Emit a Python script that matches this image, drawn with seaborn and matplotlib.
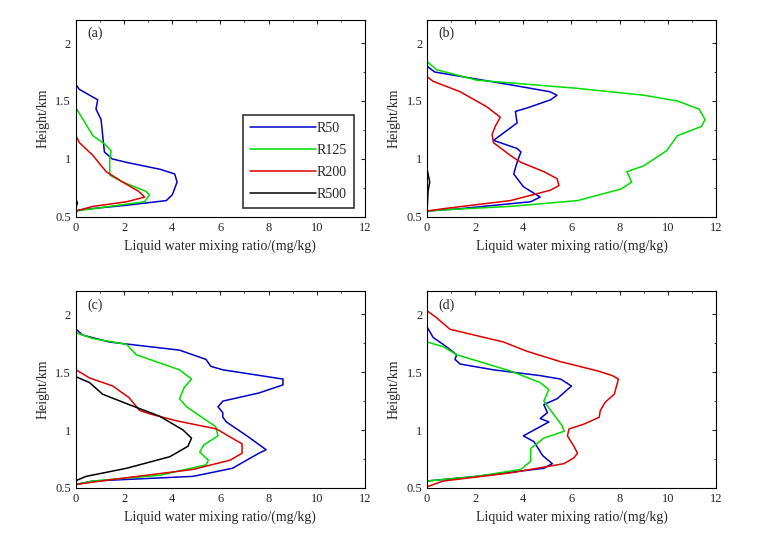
import matplotlib
matplotlib.use("Agg")
import matplotlib.pyplot as plt
import seaborn as sns
import pandas as pd
from matplotlib.ticker import AutoMinorLocator

# ── data: (mixing ratio mg/kg, height km) per case ───────────────────────────
a_r50_x = [0, 0.14, 0.9, 0.83, 1.04, 1.18, 1.5, 2.1, 3.5, 4.1, 4.2, 4.0, 3.75, 2.1, 0.14, 0]
a_r50_h = [1.64, 1.60, 1.51, 1.43, 1.34, 1.06, 1.0, 0.97, 0.91, 0.87, 0.80, 0.69, 0.64, 0.60, 0.56, 0.55]
a_r125_x = [0, 0.7, 1.18, 1.46, 1.4, 1.4, 1.94, 2.9, 3.05, 2.85, 1.4, 0]
a_r125_h = [1.44, 1.2, 1.13, 1.07, 1.0, 0.86, 0.80, 0.72, 0.69, 0.63, 0.59, 0.55]
a_r200_x = [0, 0.14, 0.7, 1.25, 1.94, 2.6, 2.85, 2.1, 0.7, 0]
a_r200_h = [1.2, 1.14, 1.03, 0.89, 0.80, 0.72, 0.67, 0.63, 0.59, 0.55]
a_r500_x = [0, 0.06, 0]
a_r500_h = [0.65, 0.62, 0.58]

b_r50_x = [0, 0.32, 3.46, 5.1, 5.4, 5.13, 4.16, 3.67, 3.74, 2.76, 3.74, 3.9, 3.74, 3.6, 4.0, 4.7, 4.3, 1.37, 0]
b_r50_h = [1.80, 1.75, 1.64, 1.58, 1.55, 1.51, 1.44, 1.41, 1.31, 1.16, 1.09, 1.06, 0.97, 0.87, 0.76, 0.67, 0.63, 0.57, 0.55]
b_r125_x = [0, 0.4, 2.06, 6.2, 9.0, 10.4, 11.3, 11.55, 11.4, 10.4, 9.95, 9.0, 8.3, 8.5, 8.06, 6.25, 3.46, 0.67, 0]
b_r125_h = [1.84, 1.77, 1.68, 1.61, 1.55, 1.50, 1.43, 1.34, 1.28, 1.2, 1.07, 0.94, 0.89, 0.80, 0.74, 0.64, 0.59, 0.56, 0.55]
b_r200_x = [0, 0.25, 1.37, 2.48, 3.04, 2.83, 2.7, 2.76, 3.46, 3.9, 4.85, 5.4, 5.48, 5.13, 3.46, 0.67, 0]
b_r200_h = [1.71, 1.67, 1.58, 1.45, 1.36, 1.28, 1.21, 1.14, 1.03, 0.97, 0.89, 0.83, 0.77, 0.73, 0.64, 0.57, 0.55]
b_r500_x = [0, 0.11, 0.04, 0]
b_r500_h = [0.91, 0.80, 0.72, 0.55]

c_r50_x = [0, 0.28, 1.39, 4.3, 5.4, 5.6, 6.1, 8.6, 8.6, 7.6, 6.1, 5.9, 6.1, 6.1, 6.25, 7.1, 7.9, 7.6, 6.5, 4.86, 0.7, 0]
c_r50_h = [1.87, 1.82, 1.76, 1.69, 1.61, 1.55, 1.52, 1.44, 1.39, 1.32, 1.25, 1.20, 1.15, 1.11, 1.07, 0.95, 0.83, 0.80, 0.67, 0.60, 0.56, 0.53]
c_r125_x = [0, 0.7, 2.1, 2.5, 4.3, 4.8, 4.5, 4.3, 4.6, 5.3, 5.8, 5.9, 5.3, 5.14, 5.5, 5.4, 3.5, 0.7, 0]
c_r125_h = [1.84, 1.79, 1.74, 1.65, 1.52, 1.44, 1.37, 1.27, 1.20, 1.10, 1.03, 0.95, 0.87, 0.81, 0.74, 0.70, 0.61, 0.56, 0.53]
c_r200_x = [0, 0.56, 1.53, 2.2, 2.64, 3.06, 4.17, 5.83, 6.9, 6.9, 6.4, 4.86, 1.39, 0]
c_r200_h = [1.52, 1.45, 1.38, 1.28, 1.17, 1.14, 1.08, 1.01, 0.88, 0.80, 0.74, 0.66, 0.57, 0.53]
c_r500_x = [0, 0.56, 1.1, 2.2, 3.47, 4.45, 4.8, 4.65, 3.9, 2.1, 0.42, 0.07, 0]
c_r500_h = [1.46, 1.41, 1.31, 1.22, 1.12, 1.0, 0.93, 0.86, 0.77, 0.67, 0.60, 0.57, 0.56]

d_r50_x = [0, 0.25, 0.8, 1.23, 1.16, 1.37, 2.76, 4.7, 5.55, 6.0, 5.4, 4.85, 5.0, 4.7, 5.06, 4.0, 4.44, 4.8, 5.2, 4.85, 2.06, 0]
d_r50_h = [1.89, 1.80, 1.72, 1.65, 1.61, 1.57, 1.52, 1.47, 1.44, 1.38, 1.27, 1.22, 1.15, 1.10, 1.07, 0.95, 0.90, 0.78, 0.71, 0.67, 0.60, 0.56]
d_r125_x = [0, 0.67, 1.23, 3.46, 4.7, 5.06, 4.85, 5.1, 5.6, 5.7, 4.85, 4.3, 4.3, 3.9, 2.06, 0]
d_r125_h = [1.76, 1.72, 1.65, 1.51, 1.41, 1.35, 1.25, 1.18, 1.04, 0.99, 0.93, 0.84, 0.73, 0.66, 0.60, 0.56]
d_r200_x = [0, 0.39, 0.95, 3.18, 4.15, 5.55, 7.1, 7.7, 7.95, 7.78, 7.4, 7.2, 7.15, 6.5, 5.9, 5.83, 6.1, 6.25, 6.1, 5.69, 3.46, 0.67, 0]
d_r200_h = [2.03, 1.97, 1.87, 1.76, 1.68, 1.59, 1.51, 1.47, 1.44, 1.31, 1.24, 1.17, 1.11, 1.05, 1.01, 0.95, 0.86, 0.80, 0.76, 0.71, 0.63, 0.56, 0.51]

panels = {
    "(a)": [("R50", a_r50_x, a_r50_h), ("R125", a_r125_x, a_r125_h),
            ("R200", a_r200_x, a_r200_h), ("R500", a_r500_x, a_r500_h)],
    "(b)": [("R50", b_r50_x, b_r50_h), ("R125", b_r125_x, b_r125_h),
            ("R200", b_r200_x, b_r200_h), ("R500", b_r500_x, b_r500_h)],
    "(c)": [("R50", c_r50_x, c_r50_h), ("R125", c_r125_x, c_r125_h),
            ("R200", c_r200_x, c_r200_h), ("R500", c_r500_x, c_r500_h)],
    "(d)": [("R50", d_r50_x, d_r50_h), ("R125", d_r125_x, d_r125_h),
            ("R200", d_r200_x, d_r200_h)],
}
colors = {"R50": "#0000cc", "R125": "#00dd00", "R200": "#dd0000", "R500": "#000000"}

sns.set_style("white")
plt.rcParams["font.family"] = ["Liberation Serif", "DejaVu Serif"]
plt.rcParams["font.size"] = 10

fig = plt.figure(figsize=(7.64, 5.38), dpi=100)
boxes = {"(a)": [0.0995, 0.597, 0.378, 0.366], "(b)": [0.559, 0.597, 0.378, 0.366],
         "(c)": [0.0995, 0.093, 0.378, 0.366], "(d)": [0.559, 0.093, 0.378, 0.366]}

for tag, series in panels.items():
    ax = fig.add_axes(boxes[tag])
    for name, xs, hs in series:
        df = pd.DataFrame({"x": xs, "h": hs})
        sns.lineplot(data=df, x="x", y="h", sort=False, estimator=None,
                     color=colors[name], lw=1.1, label=name, ax=ax)
    ax.set_xlim(0, 12)
    ax.set_ylim(0.5, 2.2)
    ax.set_xticks([0, 2, 4, 6, 8, 10, 12])
    ax.set_yticks([0.5, 1, 1.5, 2])
    ax.set_yticklabels(["0.5", "1", "1.5", "2"])
    ax.xaxis.set_minor_locator(AutoMinorLocator(2))
    ax.yaxis.set_minor_locator(AutoMinorLocator(2))
    ax.tick_params(which="both", direction="in", top=True, right=True, labelsize=9)
    ax.tick_params(which="major", length=3)
    ax.tick_params(which="minor", length=1.5)
    for s in ax.spines.values():
        s.set_color("black")
        s.set_linewidth(0.8)
    ax.set_xlabel("Liquid water mixing ratio/(mg/kg)", fontsize=10)
    ax.set_ylabel("Height/km", fontsize=10)
    ax.text(0.04, 0.93, tag, transform=ax.transAxes, fontsize=10, va="center")
    if tag == "(a)":
        leg = ax.legend(loc="lower right", bbox_to_anchor=(0.985, 0.01), fancybox=False,
                        framealpha=1, edgecolor="#333333", handlelength=4.8,
                        borderpad=0.5, labelspacing=0.65, handletextpad=0, fontsize=10)
        leg.get_frame().set_linewidth(1.2)
    else:
        ax.get_legend().remove()

fig.savefig("out.png", dpi=100)
